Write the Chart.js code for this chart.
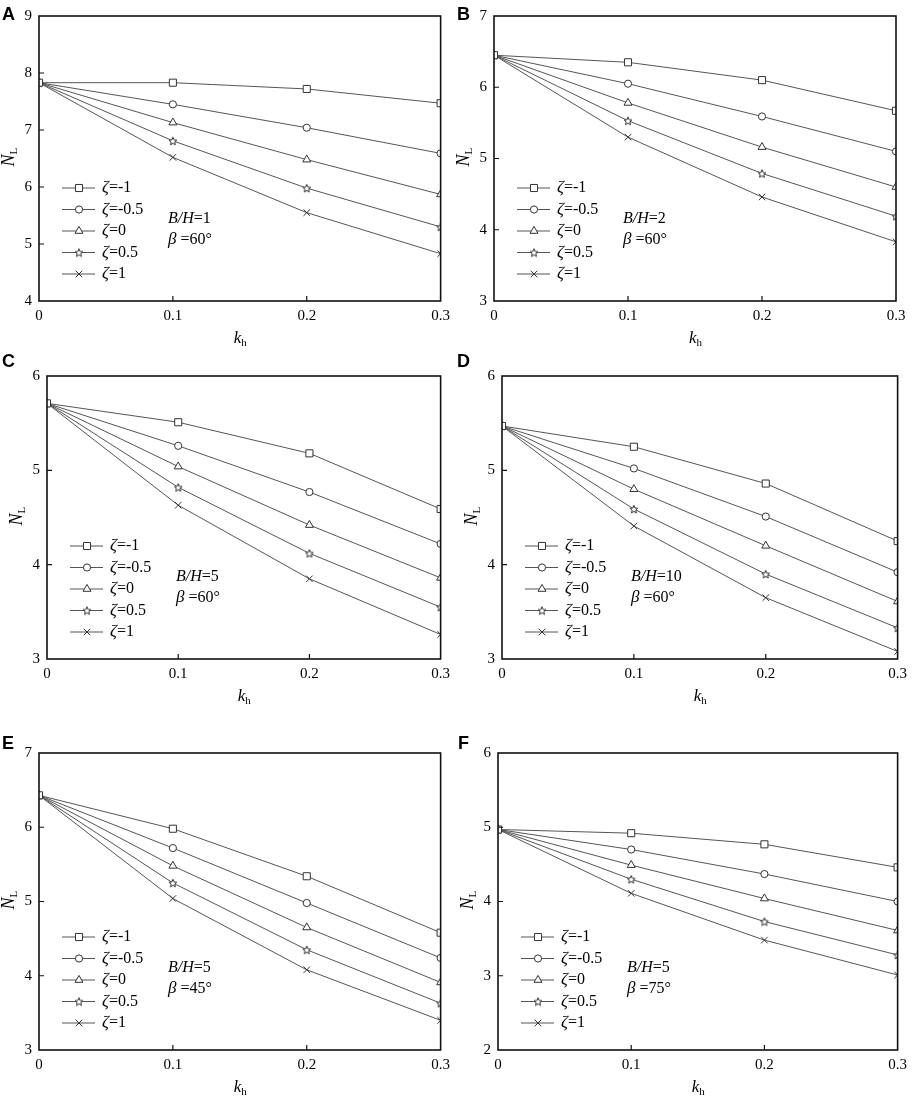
<!DOCTYPE html>
<html>
<head>
<meta charset="utf-8">
<script src="https://cdn.jsdelivr.net/npm/chart.js@4.4.1/dist/chart.umd.min.js"></script>
<style>
  body { margin: 0; background: #fff; }
  #page { position: relative; width: 913px; height: 1099px; overflow: hidden; }
  .panel { position: absolute; }
  .letter { position: absolute; font: bold 18px "Liberation Sans", Arial, sans-serif; line-height: 1; color: #000; }
</style>
</head>
<body>
<div id="page"></div>
<script>
// k_h values on the x axis
const kh = [0, 0.1, 0.2, 0.3]
const xTicks = [0, 0.1, 0.2, 0.3]
const zetas = ["-1", "-0.5", "0", "0.5", "1"]

// N_L values, one row per zeta (-1, -0.5, 0, 0.5, 1)
const valuesA = [
  [7.83, 7.83, 7.72, 7.47],
  [7.83, 7.45, 7.04, 6.59],
  [7.83, 7.13, 6.48, 5.87],
  [7.83, 6.81, 5.98, 5.30],
  [7.83, 6.52, 5.55, 4.83],
]
const valuesB = [
  [6.45, 6.35, 6.10, 5.67],
  [6.45, 6.05, 5.59, 5.10],
  [6.45, 5.78, 5.16, 4.60],
  [6.45, 5.53, 4.79, 4.19],
  [6.45, 5.30, 4.46, 3.83],
]
const valuesC = [
  [5.71, 5.51, 5.18, 4.59],
  [5.71, 5.26, 4.77, 4.22],
  [5.71, 5.04, 4.42, 3.86],
  [5.71, 4.82, 4.12, 3.55],
  [5.71, 4.63, 3.85, 3.26],
]
const valuesD = [
  [5.47, 5.25, 4.86, 4.25],
  [5.47, 5.02, 4.51, 3.92],
  [5.47, 4.80, 4.20, 3.61],
  [5.47, 4.59, 3.90, 3.33],
  [5.47, 4.41, 3.65, 3.08],
]
const valuesE = [
  [6.43, 5.98, 5.34, 4.58],
  [6.43, 5.72, 4.98, 4.24],
  [6.43, 5.48, 4.65, 3.91],
  [6.43, 5.25, 4.35, 3.63],
  [6.43, 5.04, 4.08, 3.40],
]
const valuesF = [
  [4.97, 4.92, 4.77, 4.46],
  [4.97, 4.70, 4.37, 4.00],
  [4.97, 4.49, 4.04, 3.61],
  [4.97, 4.30, 3.73, 3.28],
  [4.97, 4.11, 3.48, 3.01],
]

const yTicksA = [4, 5, 6, 7, 8, 9]
const yTicksB = [3, 4, 5, 6, 7]
const yTicksC = [3, 4, 5, 6]
const yTicksD = [3, 4, 5, 6]
const yTicksE = [3, 4, 5, 6, 7]
const yTicksF = [2, 3, 4, 5, 6]

const panelLetters = ["A", "B", "C", "D", "E", "F"]
const bhRatios = ["1", "2", "5", "10", "5", "5"]
const betas = ["60", "60", "60", "60", "45", "75"]

const allValues = [valuesA, valuesB, valuesC, valuesD, valuesE, valuesF]
const allYTicks = [yTicksA, yTicksB, yTicksC, yTicksD, yTicksE, yTicksF]

// where each panel sits on the page
const boxes = [
  { left: 0, top: 0, w: 456, h: 360, pt: 7, pr: 15, pb: 29, yw: 39, lx: 2, ly: 5 },
  { left: 455, top: 0, w: 458, h: 360, pt: 7, pr: 17, pb: 29, yw: 39, lx: 457, ly: 5 },
  { left: 0, top: 360, w: 456, h: 356, pt: 5, pr: 8, pb: 27, yw: 47, lx: 2, ly: 352 },
  { left: 455, top: 360, w: 458, h: 356, pt: 5, pr: 10, pb: 27, yw: 47, lx: 457, ly: 352 },
  { left: 0, top: 730, w: 456, h: 369, pt: 23, pr: 12, pb: 19, yw: 39, lx: 2, ly: 734 },
  { left: 455, top: 730, w: 458, h: 369, pt: 23, pr: 10, pb: 19, yw: 43, lx: 458, ly: 734 },
]

const serif = '"Liberation Serif", "Times New Roman", serif'
const lineColor = "#555"
const markColor = "#333"

function makeStar(size) {
  const c = document.createElement("canvas")
  c.width = size
  c.height = size
  const g = c.getContext("2d")
  const cx = size / 2, cy = size / 2 + 0.5
  const ro = size / 2 - 0.8, ri = ro * 0.45
  g.beginPath()
  for (let i = 0; i < 10; i++) {
    const r = i % 2 ? ri : ro
    const a = -Math.PI / 2 + i * Math.PI / 5
    g.lineTo(cx + r * Math.cos(a), cy + r * Math.sin(a))
  }
  g.closePath()
  g.fillStyle = "#fff"
  g.fill()
  g.strokeStyle = markColor
  g.lineWidth = 1
  g.stroke()
  return c
}

const star = makeStar(10)
const pointStyles = ["rect", "circle", "triangle", star, "crossRot"]
const pointSizes = [5, 3.6, 4.6, 5, 4.6]

// draws a marker for the legend the same way Chart.js draws points
function legendMark(ctx, style, radius, x, y) {
  ctx.fillStyle = "#fff"
  ctx.strokeStyle = markColor
  ctx.lineWidth = 1
  Chart.helpers.drawPoint(ctx, { pointStyle: style, radius: radius, rotation: 0, borderWidth: 1 }, x, y)
}

function drawMixed(ctx, parts, x, y) {
  parts.forEach(([txt, font]) => {
    ctx.font = font
    ctx.fillText(txt, x, y)
    x += ctx.measureText(txt).width
  })
}

const framePlugin = {
  id: "frame",
  afterDraw(chart, args, opts) {
    const { ctx, chartArea: a, scales } = chart
    ctx.save()

    // box round the plot
    ctx.strokeStyle = "#111"
    ctx.lineWidth = 1.6
    ctx.strokeRect(a.left, a.top, a.right - a.left, a.bottom - a.top)

    // inward tick marks
    ctx.lineWidth = 1.2
    ctx.beginPath()
    scales.y.ticks.forEach((t) => {
      const y = scales.y.getPixelForValue(t.value)
      if (y > a.top + 1 && y < a.bottom - 1) {
        ctx.moveTo(a.left, y)
        ctx.lineTo(a.left + 5, y)
      }
    })
    scales.x.ticks.forEach((t) => {
      const x = scales.x.getPixelForValue(t.value)
      if (x > a.left + 1 && x < a.right - 1) {
        ctx.moveTo(x, a.bottom)
        ctx.lineTo(x, a.bottom - 5)
      }
    })
    ctx.stroke()

    // legend inside the plot
    ctx.textBaseline = "middle"
    ctx.textAlign = "left"
    chart.data.datasets.forEach((ds, i) => {
      const y = a.bottom - 113 + i * 21.5
      const x0 = a.left + 23
      ctx.strokeStyle = lineColor
      ctx.lineWidth = 1
      ctx.beginPath()
      ctx.moveTo(x0, y)
      ctx.lineTo(x0 + 33, y)
      ctx.stroke()
      legendMark(ctx, ds.pointStyle, ds.pointRadius, x0 + 17, y)
      ctx.fillStyle = "#000"
      drawMixed(ctx, [["ζ", "italic 17px " + serif], ["=" + zetas[i], "16px " + serif]], x0 + 40, y)
    })

    // B/H and beta note
    ctx.fillStyle = "#000"
    const nx = a.left + 129
    drawMixed(ctx, [["B/H", "italic 16px " + serif], ["=" + opts.bh, "16px " + serif]], nx, a.bottom - 82)
    drawMixed(ctx, [["β", "italic 17px " + serif], [" =" + opts.beta + "°", "16px " + serif]], nx, a.bottom - 61)

    // axis titles
    ctx.textBaseline = "alphabetic"
    ctx.font = "italic 17px " + serif
    const kw = ctx.measureText("k").width
    const kx = (a.left + a.right) / 2 - 6
    ctx.fillText("k", kx, a.bottom + 42)
    ctx.font = "11px " + serif
    ctx.fillText("h", kx + kw, a.bottom + 45)

    ctx.translate(a.left - 25, (a.top + a.bottom) / 2 + 8)
    ctx.rotate(-Math.PI / 2)
    ctx.font = "italic 18px " + serif
    const nw = ctx.measureText("N").width
    ctx.fillText("N", 0, 0)
    ctx.font = "11px " + serif
    ctx.fillText("L", nw, 3)

    ctx.restore()
  },
}

const page = document.getElementById("page")

boxes.forEach((b, p) => {
  const holder = document.createElement("div")
  holder.className = "panel"
  holder.style.left = b.left + "px"
  holder.style.top = b.top + "px"
  holder.style.width = b.w + "px"
  holder.style.height = b.h + "px"
  const canvas = document.createElement("canvas")
  holder.appendChild(canvas)
  page.appendChild(holder)

  const letter = document.createElement("div")
  letter.className = "letter"
  letter.style.left = b.lx + "px"
  letter.style.top = b.ly + "px"
  letter.textContent = panelLetters[p]
  page.appendChild(letter)

  const yTicks = allYTicks[p]
  const datasets = allValues[p].map((row, i) => ({
    label: "ζ=" + zetas[i],
    data: kh.map((x, j) => ({ x: x, y: row[j] })),
    borderColor: lineColor,
    borderWidth: 1,
    pointStyle: pointStyles[i],
    pointRadius: pointSizes[i],
    pointBackgroundColor: "#fff",
    pointBorderColor: markColor,
    pointBorderWidth: 1,
    tension: 0,
    clip: 0,
  }))

  new Chart(canvas, {
    type: "line",
    data: { datasets: datasets },
    options: {
      responsive: true,
      maintainAspectRatio: false,
      animation: false,
      layout: {
        autoPadding: false,
        padding: { top: b.pt, right: b.pr, bottom: b.pb, left: 0 },
      },
      plugins: {
        legend: { display: false },
        tooltip: { enabled: false },
        frame: { bh: bhRatios[p], beta: betas[p] },
      },
      scales: {
        x: {
          type: "linear",
          min: 0,
          max: 0.3,
          afterBuildTicks: (axis) => { axis.ticks = xTicks.map((v) => ({ value: v })) },
          afterFit: (axis) => { axis.height = 30 },
          grid: { display: false, drawTicks: false },
          border: { display: false },
          ticks: {
            padding: 6,
            color: "#000",
            font: { family: serif, size: 15 },
            callback: (v) => (v === 0 ? "0" : v.toFixed(1)),
          },
        },
        y: {
          type: "linear",
          min: yTicks[0],
          max: yTicks[yTicks.length - 1],
          afterBuildTicks: (axis) => { axis.ticks = yTicks.map((v) => ({ value: v })) },
          afterFit: (axis) => { axis.width = b.yw },
          grid: { display: false, drawTicks: false },
          border: { display: false },
          ticks: {
            padding: 7,
            color: "#000",
            font: { family: serif, size: 15 },
            callback: (v) => String(v),
          },
        },
      },
    },
    plugins: [framePlugin],
  })
})
</script>
</body>
</html>
